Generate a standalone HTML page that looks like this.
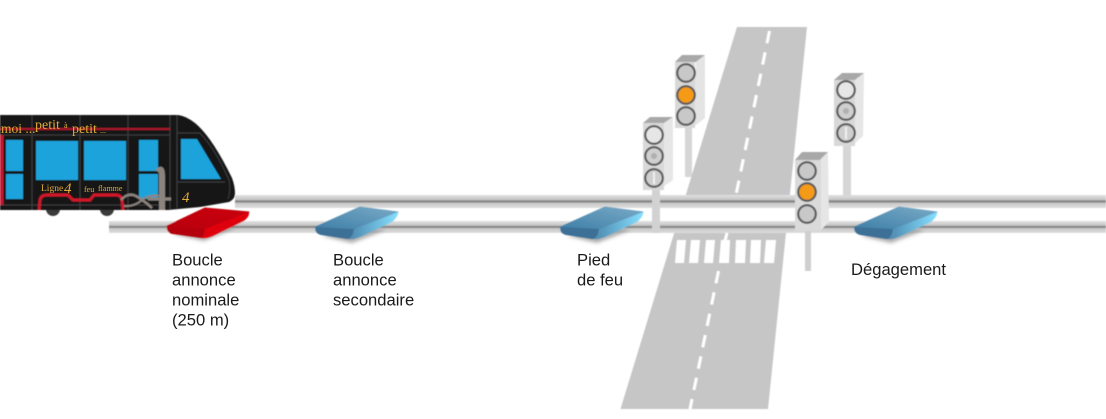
<!DOCTYPE html>
<html lang="fr">
<head>
<meta charset="utf-8">
<title>Boucles</title>
<style>
html,body{margin:0;padding:0;background:#fff;width:1106px;height:419px;overflow:hidden}
svg{display:block}
.l{font-family:"Liberation Sans",Arial,sans-serif;font-size:16.6px;fill:#1a1a1a}
.g{font-family:"Liberation Serif",serif;fill:#e0aa38}
</style>
</head>
<body>
<svg width="1106" height="419" viewBox="0 0 1106 419" xmlns="http://www.w3.org/2000/svg">
<defs>
<linearGradient id="rail" x1="0" y1="0" x2="0" y2="1">
<stop offset="0" stop-color="#e2e2e2"/><stop offset=".38" stop-color="#c4c4c4"/><stop offset=".45" stop-color="#7f7f7f"/><stop offset=".55" stop-color="#8a8a8a"/><stop offset=".62" stop-color="#c8c8c8"/><stop offset="1" stop-color="#dedede"/>
</linearGradient>
<linearGradient id="blueTop" x1="0" y1="1" x2="1" y2="0">
<stop offset="0" stop-color="#3f7fa8"/><stop offset="1" stop-color="#79aac6"/>
</linearGradient>
<linearGradient id="blueSide" x1="0" y1="0" x2="1" y2="0">
<stop offset="0" stop-color="#4b86ad"/><stop offset="1" stop-color="#86e0ff"/>
</linearGradient>
<linearGradient id="redTop" x1="0" y1="1" x2="1" y2="0">
<stop offset="0" stop-color="#b80008"/><stop offset="1" stop-color="#cc0008"/>
</linearGradient>
<filter id="sh" x="-30%" y="-30%" width="160%" height="180%"><feGaussianBlur stdDeviation="1.8"/></filter>
<filter id="soft" x="-2%" y="-2%" width="104%" height="104%"><feGaussianBlur stdDeviation="0.5"/></filter>
<g id="loop">
<path d="M322 236 L352 243 L386 230 L360 228 Z" fill="#8a8a8a" opacity=".7" filter="url(#sh)"/>
<path d="M315.500 227 L360 207 L398 212 L354 229 Z" fill="url(#blueTop)" stroke="url(#blueTop)" stroke-width="1" stroke-linejoin="round"/>
<path d="M315.500 227 Q314 233 321 235 L347 239 Q353 239 354 229 Z" fill="#3c7096"/>
<path d="M354 229 Q353 239 348 239 Q353 240 362 236 L392 222 Q399 216 398 212 Z" fill="url(#blueSide)"/>
</g>
</defs>

<g filter="url(#soft)">
<!-- road -->
<polygon points="737,27 807,27 768,409 620.500,409" fill="#c6c6c6"/>
<!-- white gap between rails -->
<rect x="660" y="208" width="150" height="13" fill="#fff"/>

<!-- rails -->
<rect x="235" y="195" width="871" height="13" fill="url(#rail)"/>
<rect x="109" y="221" width="997" height="12" fill="url(#rail)"/>

<!-- centre dashes -->
<g stroke="#fff" stroke-width="3" fill="none">
<line x1="769.500" y1="31" x2="736" y2="195" stroke-dasharray="12.500 9.300"/>
<line x1="727" y1="233" x2="725" y2="241"/>
<line x1="718.500" y1="271" x2="690" y2="409" stroke-dasharray="12.500 9.300"/>
</g>
<!-- crosswalk -->
<g fill="#fff">
<polygon points="677,240 686,240 684,263 675,263"/>
<polygon points="691,240 700,240 698,263 689,263"/>
<polygon points="706,240 715,240 713,263 704,263"/>
<polygon points="721,240 730,240 729,263 719,263"/>
<polygon points="736,240 746,240 745,263 735,263"/>
<polygon points="751,240 761,240 760,263 750,263"/>
<polygon points="766,240 776,240 774,263 764,263"/>
</g>

<!-- poles -->
<rect x="685" y="126" width="7" height="51" fill="#d6d6d6"/>
<rect x="652" y="188" width="8" height="45" fill="#d2d2d2"/>
<rect x="843" y="144" width="8" height="52" fill="#d6d6d6"/>
<rect x="805" y="228" width="6" height="43" fill="#cfcfcf"/>

<!-- traffic light A -->
<g>
<polygon points="675,62 682,55 705,55 696,62" fill="#a8a8a8"/>
<polygon points="696,62 705,55 705,118 692,128" fill="#e4e4e4"/>
<rect x="675" y="62" width="20" height="66" fill="#d8d8d8"/>
<g stroke="#5a5a5a" stroke-width="2.200">
<circle cx="686" cy="73" r="8.800" fill="#c8c8c8"/>
<circle cx="686" cy="95" r="8.800" fill="#f59a12"/>
<circle cx="686" cy="116" r="8.800" fill="#c8c8c8"/>
</g>
</g>
<!-- traffic light B -->
<g>
<polygon points="643,123 650,117 673,117 664,123" fill="#a8a8a8"/>
<polygon points="664,123 673,117 673,180 660,189" fill="#e6e6e6"/>
<rect x="643" y="123" width="21" height="67" fill="#d8d8d8"/>
<g stroke="#5a5a5a" stroke-width="2.200" fill="#cfcfcf">
<circle cx="654" cy="135" r="8.800" fill="#e6e6e6"/>
<circle cx="654" cy="156" r="8.800"/>
<circle cx="654" cy="178" r="8.800"/>
</g>
<circle cx="654" cy="156" r="3" fill="#b0b0b0"/>
<rect x="653" y="172" width="2" height="12" fill="#f0f0f0"/>
</g>
<!-- traffic light C -->
<g>
<polygon points="834,80 842,73 864,73 855,80" fill="#a8a8a8"/>
<polygon points="855,80 864,73 863,136 852,146" fill="#e6e6e6"/>
<rect x="834" y="80" width="21" height="66" fill="#d8d8d8"/>
<g stroke="#5a5a5a" stroke-width="2.200" fill="#cfcfcf">
<circle cx="846" cy="90" r="8.800" fill="#e6e6e6"/>
<circle cx="846" cy="111" r="8.800"/>
<circle cx="846" cy="133" r="8.800"/>
</g>
<circle cx="846" cy="111" r="3" fill="#b0b0b0"/>
<rect x="845" y="127" width="2" height="12" fill="#f0f0f0"/>
</g>
<!-- traffic light D -->
<g>
<polygon points="795,160 802,152 828,152 820,160" fill="#a8a8a8"/>
<polygon points="820,160 828,152 829,222 820,231" fill="#e6e6e6"/>
<rect x="795" y="160" width="26" height="71" fill="#dadada"/>
<g stroke="#5a5a5a" stroke-width="2.200">
<circle cx="807" cy="171" r="8.800" fill="#c8c8c8"/>
<circle cx="807" cy="192" r="8.800" fill="#f59a12"/>
<circle cx="807" cy="214" r="8.800" fill="#c8c8c8"/>
</g>
</g>

<!-- wheels -->
<circle cx="53" cy="209" r="7" fill="#3a3a3a"/>
<circle cx="107" cy="209" r="7" fill="#3a3a3a"/>

<!-- train -->
<path d="M0 115 L178 115 Q186 116 195 123 Q212 137 232 178 Q235 186 235 194 Q235 199 229 202 L200 207 L168 210 L0 210 Z" fill="#151518"/>
<g stroke="#3c3c40" stroke-width="1" fill="none">
<line x1="0" y1="135" x2="170" y2="135"/>
<line x1="32" y1="115" x2="32" y2="210"/>
<line x1="80" y1="115" x2="80" y2="210"/>
<line x1="128" y1="115" x2="128" y2="210"/>
<line x1="170" y1="115" x2="170" y2="210"/>
<line x1="177" y1="115" x2="177" y2="208"/>
<line x1="177" y1="133" x2="200" y2="133"/>
<line x1="177" y1="182" x2="225" y2="182"/>
<path d="M200 133 Q216 150 229 180 Q231 190 228 199"/>
<line x1="0" y1="205" x2="160" y2="205"/>
</g>
<!-- windows -->
<g fill="#1ba3dc">
<rect x="6" y="140" width="17" height="31"/>
<rect x="6" y="174" width="17" height="25"/>
<rect x="36" y="141" width="42" height="39"/>
<rect x="84" y="141" width="42" height="39"/>
<rect x="139" y="140" width="19" height="31"/>
<rect x="139" y="174" width="19" height="25"/>
<polygon points="181,139 197,139 221,179 181,179"/>
</g>
<!-- red lines -->
<line x1="0" y1="129" x2="170" y2="129" stroke="#a8142a" stroke-width="2"/>
<rect x="0" y="135" width="3.500" height="70" fill="#c21230"/>
<path d="M39 210 L40 200 Q41 195 47 195 L68 195 L73 200 L90 200 L94 195 L116 195 Q121 195 122 200 L123 210" fill="none" stroke="#d0142c" stroke-width="3"/>
<!-- grey 4 motif -->
<g stroke="#8b837d" fill="none">
<path d="M121 200 Q128 192 136 196 Q146 202 152 208" stroke-width="2.500"/>
<path d="M124 206 Q134 207 142 200 Q150 194 160 196" stroke-width="2"/>
<path d="M162 210 L162 176 Q162 166 158 172" stroke-width="6"/>
<line x1="148" y1="199" x2="171" y2="199" stroke-width="3"/>
</g>
<!-- red loop -->
<path d="M172 234 L204 241 L236 228 L212 226 Z" fill="#8a8a8a" opacity=".7" filter="url(#sh)"/>
<path d="M167 226 L205 208 L249 212 L205 229 Z" fill="url(#redTop)" stroke="#c00008" stroke-width="1" stroke-linejoin="round"/>
<path d="M167 226 Q166 232 172 234 L200 238 Q205 238 205 229 Z" fill="#b40008"/>
<path d="M205 229 Q205 238 200 238 Q206 239 213 236 L244 221 Q250 216 249 212 Z" fill="#e00008"/>

<!-- blue loops -->
<use href="#loop"/>
<use href="#loop" x="245"/>
<use href="#loop" x="539"/>
</g>

<!-- train text -->
<text class="g" x="1" y="133" font-size="13.500">moi ...</text>
<text class="g" x="35" y="129" font-size="14">petit</text>
<text class="g" x="64" y="128" font-size="8">à</text>
<text class="g" x="72" y="133" font-size="14">petit</text>
<text class="g" x="100" y="133" font-size="8">...</text>
<text class="g" x="41" y="191" font-size="9.500">Ligne</text>
<text class="g" x="64" y="193" font-size="15" font-style="italic">4</text>
<text class="g" x="84" y="192" font-size="8">feu</text>
<text class="g" x="98" y="191" font-size="8">flamme</text>
<text class="g" x="182" y="202" font-size="15" font-style="italic">4</text>

<!-- labels -->
<g class="l">
<text x="172" y="265.500">Boucle</text>
<text x="172" y="285.500">annonce</text>
<text x="172" y="305.500">nominale</text>
<text x="172" y="325.500">(250 m)</text>
<text x="333" y="265.500">Boucle</text>
<text x="333" y="285.500">annonce</text>
<text x="333" y="305.500">secondaire</text>
<text x="577" y="265.500">Pied</text>
<text x="577" y="285.500">de feu</text>
<text x="851" y="275">Dégagement</text>
</g>
</svg>
</body>
</html>
